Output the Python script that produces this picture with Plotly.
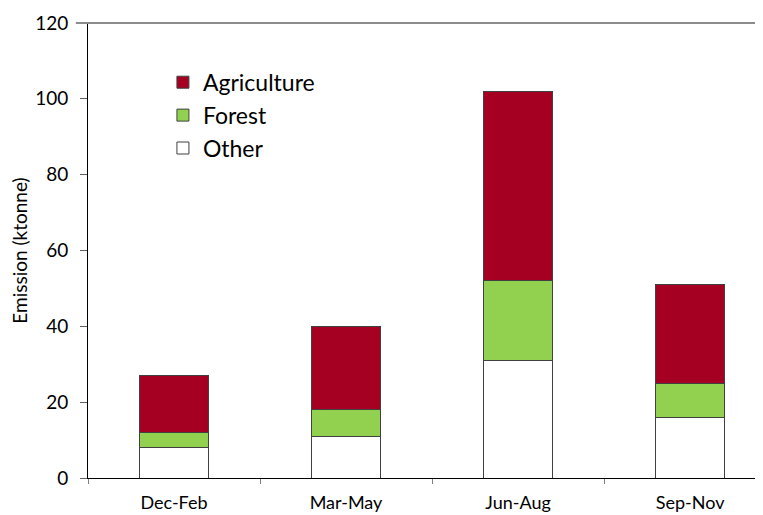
import plotly.graph_objects as go

seasons = ["Dec-Feb", "Mar-May", "Jun-Aug", "Sep-Nov"]
other = [8, 11, 31, 16]
forest = [4, 7, 21, 9]
agriculture = [15, 22, 50, 26]

FONT = "Lato"
fig = go.Figure()
fig.add_trace(go.Bar(x=seasons, y=other, name="Other", legendgroup="o",
                     marker=dict(color="#FFFFFF", line=dict(color="#404040", width=1))))
fig.add_trace(go.Bar(x=seasons, y=forest, name="Forest", legendgroup="f",
                     marker=dict(color="#92D050", line=dict(color="#404040", width=1))))
fig.add_trace(go.Bar(x=seasons, y=agriculture, name="Agriculture", legendgroup="a",
                     marker=dict(color="#A50021", line=dict(color="#404040", width=1))))

# page body has an 8px margin, so the figure is sized/offset to compensate
fig.update_layout(
    width=755, height=507,
    margin=dict(l=80, r=0, t=15, b=37),
    barmode="stack", bargap=0.6,
    plot_bgcolor="white", paper_bgcolor="white",
    font=dict(family=FONT, size=18, color="#000000"),
    showlegend=True,
    legend=dict(x=0.111, y=0.917, xanchor="left", yanchor="top",
                traceorder="reversed", tracegroupgap=8,
                font=dict(size=23, family=FONT), bgcolor="rgba(0,0,0,0)"),
    xaxis=dict(range=[-0.5, 3.424], showline=True, linecolor="#000000", linewidth=1,
               ticks="outside", tickson="boundaries", ticklen=5, tickcolor="#808080",
               showgrid=False, tickfont=dict(size=18), ticklabelstandoff=8),
    yaxis=dict(range=[0, 120], dtick=20, showline=True, linecolor="#000000", linewidth=1,
               ticks="outside", ticklen=7, tickcolor="#606060", showgrid=False,
               tickfont=dict(size=19), zeroline=False, ticklabelstandoff=8,
               title=dict(text="Emission (ktonne)", font=dict(size=19), standoff=12)),
    shapes=[dict(type="line", xref="paper", yref="paper", x0=-0.018, x1=1, y0=1, y1=1,
                 line=dict(color="#8C8C8C", width=2))],
)

fig.write_html("out.html")
